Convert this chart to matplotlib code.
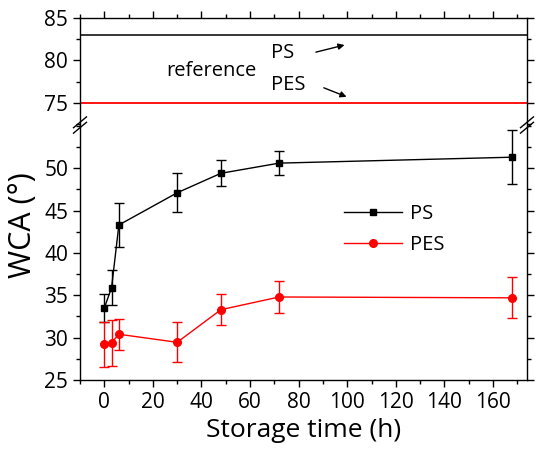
import matplotlib
matplotlib.use("Agg")
import matplotlib.pyplot as plt
from matplotlib.lines import Line2D
from matplotlib.ticker import MultipleLocator

plt.rcParams['font.family'] = ['Open Sans', 'DejaVu Sans']

# storage time (h)
time_h = [0, 3, 6, 30, 48, 72, 168]

ps_wca = [33.5, 35.9, 43.3, 47.1, 49.4, 50.6, 51.3]
ps_err = [1.6, 2.05, 2.65, 2.3, 1.55, 1.4, 3.2]

pes_wca = [29.2, 29.4, 30.4, 29.45, 33.3, 34.8, 34.7]
pes_err = [2.7, 2.7, 1.8, 2.35, 1.8, 1.85, 2.4]

# reference (untreated) WCA
ref_ps = 83
ref_pes = 75

fig = plt.figure(figsize=(5.4, 4.51), dpi=100)
left, right = 80 / 540, 527 / 540
y_top, y_break, y_bot = 18, 125, 380
H = 451
ax_hi = fig.add_axes([left, 1 - y_break / H, right - left, (y_break - y_top) / H])
ax_lo = fig.add_axes([left, 1 - y_bot / H, right - left, (y_bot - y_break) / H])

xlim = (-10, 174)

# upper part: reference lines
ax_hi.axhline(ref_ps, color='black', lw=1.1)
ax_hi.axhline(ref_pes, color='red', lw=1.3)
ax_hi.set_xlim(*xlim)
ax_hi.set_ylim(72.4, 85)
ax_hi.set_yticks([75, 80, 85])
ax_hi.yaxis.set_minor_locator(MultipleLocator(2.5))
ax_hi.xaxis.set_major_locator(MultipleLocator(20))
ax_hi.xaxis.set_minor_locator(MultipleLocator(10))
ax_hi.spines['bottom'].set_visible(False)
ax_hi.tick_params(axis='x', which='both', bottom=False, labelbottom=False,
                  top=True, direction='out')
ax_hi.tick_params(axis='y', which='both', right=True, direction='out')
ax_hi.text(25.5, 78.7, 'reference', fontsize=14.5, va='center')
ax_hi.text(68.5, 80.9, 'PS', fontsize=14.5, va='center')
ax_hi.text(68.5, 77.1, 'PES', fontsize=14.5, va='center')
arrow = dict(arrowstyle='-|>', color='black', lw=1, mutation_scale=9)
ax_hi.annotate('', xy=(100, 81.9), xytext=(86, 80.9), arrowprops=arrow)
ax_hi.annotate('', xy=(100.8, 75.6), xytext=(89.3, 76.9), arrowprops=arrow)

# lower part: measured data
ax_lo.errorbar(time_h, ps_wca, yerr=ps_err, color='black', marker='s', ms=5,
               lw=1, capsize=3.5, elinewidth=1, capthick=1)
ax_lo.errorbar(time_h, pes_wca, yerr=pes_err, color='red', marker='o', ms=5.5,
               lw=1, capsize=3.5, elinewidth=1, capthick=1)
ax_lo.set_xlim(*xlim)
ax_lo.set_ylim(25, 55.1)
ax_lo.set_yticks([25, 30, 35, 40, 45, 50])
ax_lo.yaxis.set_minor_locator(MultipleLocator(2.5))
ax_lo.xaxis.set_major_locator(MultipleLocator(20))
ax_lo.xaxis.set_minor_locator(MultipleLocator(10))
ax_lo.spines['top'].set_visible(False)
ax_lo.tick_params(axis='both', which='both', direction='out')
ax_lo.tick_params(axis='y', which='both', right=True)
ax_lo.set_xlabel('Storage time (h)', fontsize=19)

handles = [Line2D([], [], color='black', marker='s', ms=5, lw=1),
           Line2D([], [], color='red', marker='o', ms=5.5, lw=1)]
ax_lo.legend(handles, ['PS', 'PES'], loc='upper left', bbox_to_anchor=(0.55, 0.76),
             frameon=False, fontsize=14.5, handlelength=2.9, handletextpad=0.4,
             labelspacing=0.55)

for ax in (ax_hi, ax_lo):
    ax.tick_params(which='major', length=5, width=1, labelsize=15)
    ax.tick_params(which='minor', length=3, width=1)
    for s in ax.spines.values():
        s.set_linewidth(1)

fig.text(0.042, 0.5, 'WCA (°)', rotation=90, fontsize=22, va='center', ha='center')

# break marks
d = 0.012
for x0 in (0, 1):
    for dy in (-0.006, 0.006):
        fig.add_artist(plt.Line2D([left + (right - left) * x0 - d, left + (right - left) * x0 + d],
                                  [1 - y_break / H + dy - 0.012, 1 - y_break / H + dy + 0.012],
                                  color='black', lw=1, transform=fig.transFigure))

fig.savefig('out.png', dpi=100)
